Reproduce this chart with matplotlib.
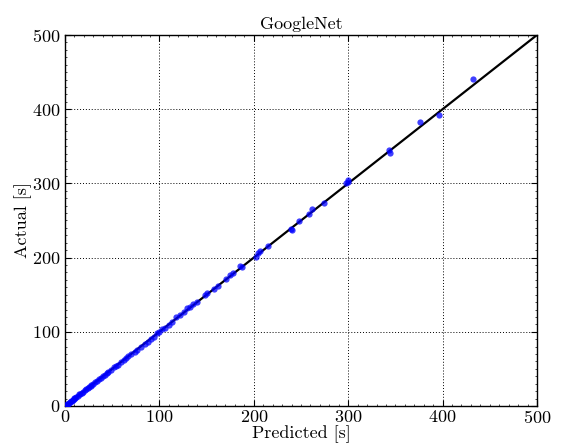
import matplotlib
matplotlib.use('Agg')
import matplotlib.pyplot as plt
from matplotlib.ticker import MultipleLocator

plt.rcParams['font.family'] = 'serif'
plt.rcParams['font.serif'] = ['cmr10']
plt.rcParams['mathtext.fontset'] = 'cm'
plt.rcParams['axes.formatter.use_mathtext'] = True
plt.rcParams['axes.unicode_minus'] = False

# run times per layer config (seconds)
predicted = [1, 2, 3, 4, 5, 6, 7, 8, 9, 10, 11, 12, 14, 15, 16, 18, 19, 21, 22, 24,
             25, 27, 28, 30, 32, 34, 36, 38, 40, 42, 44, 46, 49, 52, 54, 56.5, 59, 62,
             65, 67, 70, 74, 76, 81, 85, 88, 91, 94, 97, 100, 103, 106, 110, 113, 118,
             122, 126, 129, 132, 136, 139.5, 148, 150, 158, 162, 171, 175, 178, 185,
             187, 202, 204.8, 206.6, 215, 239, 240, 248, 258.8, 262, 274.7, 298, 300,
             300, 343.5, 344, 376, 396, 432]
actual = [1, 2.5, 3, 4.5, 5, 6.5, 7, 8.5, 9, 10.5, 11, 12.5, 14, 15.5, 16.5, 18, 19.5,
          21, 22.5, 24, 25.5, 27, 28.5, 30, 32.5, 34, 36.5, 38, 40.5, 42, 44.5, 46, 48.5,
          52, 54.5, 55, 59.5, 62, 64.7, 67.5, 70, 73, 75, 80, 84, 86.7, 90, 93.5, 98,
          100, 104, 104.7, 108.5, 113.6, 119.5, 122.6, 126, 131.6, 133.8, 137, 140.6,
          149.6, 152, 157, 161.7, 170.8, 176.5, 178.8, 188.7, 187, 201, 206.6, 209, 216,
          238.5, 237, 249, 258.8, 266, 273, 300, 302, 304, 345, 341, 383, 392.6, 441]
limits = [0, 500]

fig = plt.figure(figsize=(5.61, 4.44), dpi=100)
ax = fig.add_axes([0.1159, 0.0856, 0.8413, 0.8356])

ax.plot(limits, limits, color='black', lw=1.6, zorder=2)
ax.plot(predicted, actual, 'o', color='blue', markersize=4.5, markeredgewidth=0,
        alpha=0.75, zorder=3)

ax.set_xlim(limits)
ax.set_ylim(limits)
ax.xaxis.set_major_locator(MultipleLocator(100))
ax.yaxis.set_major_locator(MultipleLocator(100))
ax.xaxis.set_minor_locator(MultipleLocator(10))
ax.yaxis.set_minor_locator(MultipleLocator(10))
ax.tick_params(which='both', direction='in', top=True, right=True, labelsize=13)
ax.tick_params(which='major', length=4, width=0.8, pad=2)
ax.tick_params(which='minor', length=1.5, width=0.5)
ax.tick_params(axis='y', which='major', pad=3)
ax.grid(True, which='major', linestyle=(0, (1, 2)), color='black', lw=0.7)
for s in ax.spines.values():
    s.set_linewidth(1.0)

ax.set_title('GoogleNet', fontsize=13, pad=4)
ax.set_xlabel('Predicted [s]', fontsize=13, labelpad=0)
ax.set_ylabel('Actual [s]', fontsize=13, labelpad=0)

fig.savefig('out.png', dpi=100)
